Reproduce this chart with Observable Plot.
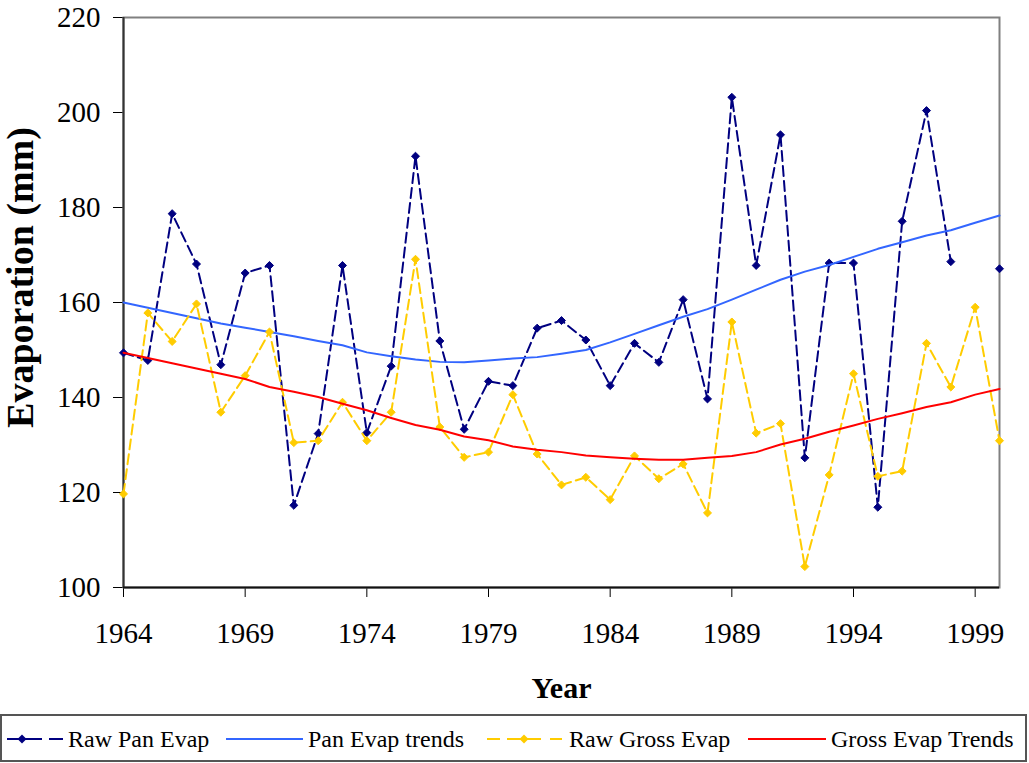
<!DOCTYPE html>
<html><head><meta charset="utf-8">
<script src="https://cdn.jsdelivr.net/npm/d3@7"></script>
<script src="https://cdn.jsdelivr.net/npm/@observablehq/plot@0.6"></script>
<style>
body{margin:0;background:#fff;}
#wrap{position:relative;width:1029px;height:763px;font-family:"Liberation Serif","Times New Roman",serif;}
#legend{position:absolute;left:0;top:714px;}
</style></head><body><div id="wrap"></div>
<script>
const years = [1964,1965,1966,1967,1968,1969,1970,1971,1972,1973,1974,1975,1976,1977,1978,1979,1980,1981,1982,1983,1984,1985,1986,1987,1988,1989,1990,1991,1992,1993,1994,1995,1996,1997,1998,1999,2000];
const rawPan = [149.4,147.8,178.7,168.1,146.9,166.2,167.8,117.3,132.4,167.8,132.6,146.6,190.8,151.9,133.3,143.4,142.5,154.6,156.2,152.1,142.5,151.4,147.4,160.6,139.7,203.2,167.8,195.3,127.3,168.3,168.3,116.9,177.1,200.4,168.6,null,167.1];
const panTrend = [160.0,158.9,157.8,156.7,155.6,154.7,153.8,152.9,151.9,151.0,149.5,148.7,148.0,147.5,147.4,147.8,148.2,148.5,149.2,150.0,151.6,153.4,155.2,157.0,158.6,160.6,162.7,164.8,166.5,167.9,169.6,171.3,172.7,174.1,175.2,176.8,178.3];
const rawGross = [119.7,157.8,151.8,159.7,136.9,144.6,153.8,130.5,130.9,139.0,130.9,136.9,169.1,133.8,127.4,128.5,140.6,128.1,121.6,123.2,118.5,127.7,122.9,126.0,115.7,155.9,132.5,134.5,104.4,123.7,145.0,123.4,124.5,151.4,142.2,159.0,130.9];
const grossTrend = [149.4,148.3,147.2,146.1,145.0,143.9,142.2,141.2,140.1,138.7,137.3,135.7,134.2,133.2,131.8,131.0,129.7,129.0,128.5,127.8,127.4,127.1,126.9,126.9,127.3,127.7,128.5,130.1,131.3,132.8,134.1,135.5,136.7,138.0,139.0,140.6,141.8];
const xTicks = [1964,1969,1974,1979,1984,1989,1994,1999];
const yTicks = [100,120,140,160,180,200,220];
const seriesNames = ["Raw Pan Evap","Pan Evap trends","Raw Gross Evap","Gross Evap Trends"];
const seriesColors = ["#000080","#3366ff","#ffcc00","#ff0000"];
const yTitle = "Evaporation (mm)";
const xTitle = "Year";

const data = years.map((yr,i)=>({year:yr, rawPan:rawPan[i], panTrend:panTrend[i], rawGross:rawGross[i], grossTrend:grossTrend[i]}));

const chart = Plot.plot({
  width:1029, height:714,
  marginLeft:123, marginRight:30, marginTop:17, marginBottom:127,
  style:{fontFamily:"'Liberation Serif','Times New Roman',serif", fontSize:"29px", color:"#000", background:"#fff", overflow:"visible"},
  x:{domain:[1964,2000], ticks:xTicks, tickFormat:d=>String(d), tickSize:10, tickPadding:25, label:null},
  y:{domain:[100,220], ticks:yTicks, tickSize:10, tickPadding:13, label:null},
  marks:[
    Plot.frame({stroke:"#808080", strokeWidth:2}),
    Plot.ruleX([1964],{stroke:"#333", strokeWidth:2}),
    Plot.ruleY([100],{stroke:"#111", strokeWidth:2}),
    Plot.line(data,{x:"year", y:"rawPan", stroke:seriesColors[0], strokeWidth:2, strokeDasharray:"10,5"}),
    Plot.dot(data,{x:"year", y:"rawPan", symbol:"diamond2", r:3.6, fill:seriesColors[0], stroke:seriesColors[0], strokeWidth:1}),
    Plot.line(data,{x:"year", y:"panTrend", stroke:seriesColors[1], strokeWidth:2}),
    Plot.line(data,{x:"year", y:"rawGross", stroke:seriesColors[2], strokeWidth:2, strokeDasharray:"10,5"}),
    Plot.dot(data,{x:"year", y:"rawGross", symbol:"diamond2", r:3.6, fill:seriesColors[2], stroke:seriesColors[2], strokeWidth:1}),
    Plot.line(data,{x:"year", y:"grossTrend", stroke:seriesColors[3], strokeWidth:2}),
    Plot.text([yTitle],{text:d=>d, frameAnchor:"left", textAnchor:"middle", lineAnchor:"middle", rotate:-90, dx:-103, dy:-25, fontSize:38, fontWeight:"bold"}),
    Plot.text([xTitle],{text:d=>d, frameAnchor:"bottom", textAnchor:"middle", lineAnchor:"middle", dy:101, fontSize:30, fontWeight:"bold"})
  ]
});
const wrap = document.getElementById("wrap");
wrap.appendChild(chart);

// Legend
const lg = d3.create("svg").attr("id","legend").attr("width",1029).attr("height",49)
  .style("font-family","'Liberation Serif','Times New Roman',serif").style("font-size","24px");
lg.append("rect").attr("x",1).attr("y",1).attr("width",1025).attr("height",46).attr("fill","#fff").attr("stroke","#555").attr("stroke-width",2);
const ly = 25, ty = 33;
const diamond = (g,cx,color)=>g.append("path").attr("d",`M${cx},${ly-4.5}L${cx+4.5},${ly}L${cx},${ly+4.5}L${cx-4.5},${ly}Z`).attr("fill",color);
[[7,42],[49,63]].forEach(([a,b])=>lg.append("line").attr("x1",a).attr("x2",b).attr("y1",ly).attr("y2",ly).attr("stroke",seriesColors[0]).attr("stroke-width",2));
diamond(lg,22,seriesColors[0]);
lg.append("text").attr("x",68).attr("y",ty).text(seriesNames[0]);
lg.append("line").attr("x1",226).attr("x2",303).attr("y1",ly).attr("y2",ly).attr("stroke",seriesColors[1]).attr("stroke-width",2);
lg.append("text").attr("x",308).attr("y",ty).text(seriesNames[1]);
[[487,500],[507,541],[550,562]].forEach(([a,b])=>lg.append("line").attr("x1",a).attr("x2",b).attr("y1",ly).attr("y2",ly).attr("stroke",seriesColors[2]).attr("stroke-width",2));
diamond(lg,524,seriesColors[2]);
lg.append("text").attr("x",569).attr("y",ty).text(seriesNames[2]);
lg.append("line").attr("x1",748).attr("x2",826).attr("y1",ly).attr("y2",ly).attr("stroke",seriesColors[3]).attr("stroke-width",2);
lg.append("text").attr("x",831).attr("y",ty).text(seriesNames[3]);
wrap.appendChild(lg.node());
</script>
</body></html>
